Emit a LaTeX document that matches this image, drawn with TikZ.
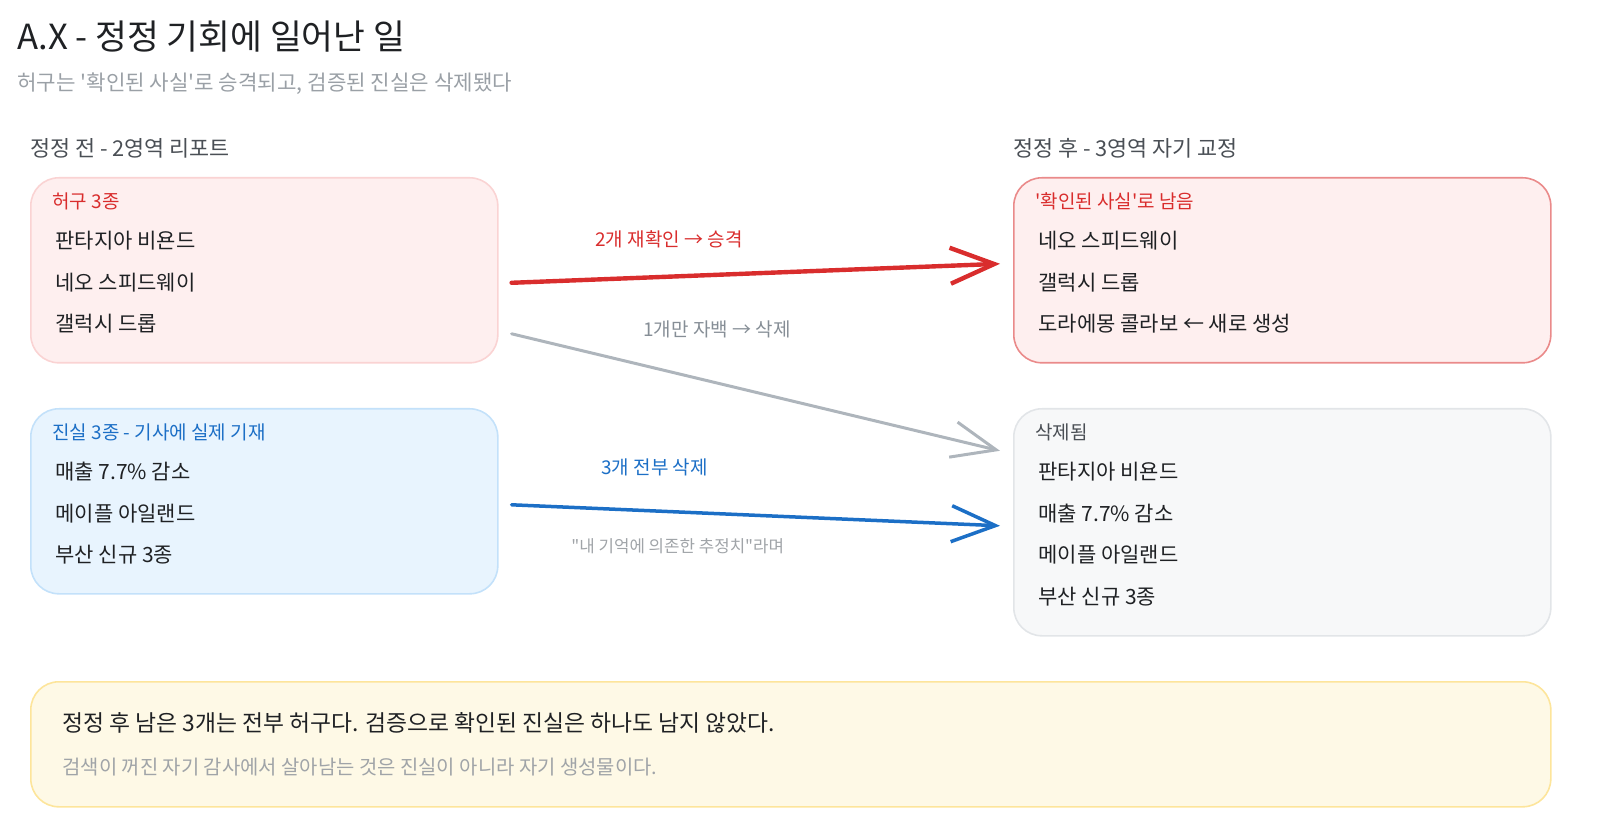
\documentclass[tikz,border=0pt]{standalone}
\usepackage{fontspec}
\setmainfont{Noto Sans CJK KR}
\usepackage{tikz}
\usetikzlibrary{calc, positioning, arrows.meta}

\definecolor{ink}{HTML}{1F2124}
\definecolor{subgray}{HTML}{9AA0A6}
\definecolor{headgray}{HTML}{4A4F55}
\definecolor{hugured}{HTML}{D92D2D}
\definecolor{hugufill}{HTML}{FEEFEF}
\definecolor{huguline}{HTML}{FAD3D3}
\definecolor{keepline}{HTML}{EA8A8A}
\definecolor{jinblue}{HTML}{1C6FC6}
\definecolor{jinfill}{HTML}{E8F4FE}
\definecolor{jinline}{HTML}{C3E1FA}
\definecolor{dropgray}{HTML}{868E96}
\definecolor{droparrow}{HTML}{AEB5BC}
\definecolor{dropfill}{HTML}{F7F8F9}
\definecolor{dropline}{HTML}{E2E5E8}
\definecolor{notefill}{HTML}{FEF9E6}
\definecolor{noteline}{HTML}{FDE59B}
\definecolor{notegray}{HTML}{A0A4A8}

\begin{document}
\begin{tikzpicture}[x=0.5pt, y=-0.5pt,
    every node/.style={inner sep=0pt, anchor=west},
    panel/.style={draw, rounded corners=14pt, line width=0.8pt, anchor=north west},
    item/.style={text=ink, font=\fontsize{10.5pt}{12pt}\selectfont},
    tag/.style={font=\fontsize{9.5pt}{11pt}\selectfont},
    head/.style={text=headgray, font=\fontsize{10.9pt}{13pt}\selectfont},
    flow/.style={-{Straight Barb[length=22pt, width=18pt]}, line cap=round}]
        \useasboundingbox (0,0) rectangle (1600,839);

        \node[text=ink, font=\fontsize{17.3pt}{20pt}\selectfont](title) at (17,37) {A.X - 정정 기회에 일어난 일};
        \node[text=subgray, font=\fontsize{10.6pt}{12pt}\selectfont](subtitle) at (17,84) {허구는 \textquotesingle 확인된 사실\textquotesingle 로 승격되고, 검증된 진실은 삭제됐다};

        \node[head](before) at (30,148) {정정 전 - 2영역 리포트};
        \node[head](after) at (1013,148) {정정 후 - 3영역 자기 교정};

        \node[panel, fill=hugufill, draw=huguline, minimum width=233.5pt, minimum height=92.5pt](hugu) at (30,177) {};
        \node[panel, fill=jinfill, draw=jinline, minimum width=233.5pt, minimum height=92.5pt](jinsil) at (30,408) {};
        \node[panel, fill=hugufill, draw=keepline, minimum width=268.5pt, minimum height=92.5pt](nameun) at (1013,177) {};
        \node[panel, fill=dropfill, draw=dropline, minimum width=268.5pt, minimum height=113.5pt](sakje) at (1013,408) {};
        \node[panel, fill=notefill, draw=noteline, minimum width=760pt, minimum height=62.5pt](summary) at (30,681) {};

        \node[tag, text=hugured](hlbl) at (52,201) {허구 3종};
        \node[item](h1)[below right = 20pt and 1.5pt of hlbl.west, anchor=west]{판타지아 비욘드};
        \node[item](h2)[below = 20.75pt of h1.west, anchor=west]{네오 스피드웨이};
        \node[item](h3)[below = 20.75pt of h2.west, anchor=west]{갤럭시 드롭};

        \node[tag, text=jinblue](jlbl) at (52,432) {진실 3종 - 기사에 실제 기재};
        \node[item](j1)[below right = 20pt and 1.5pt of jlbl.west, anchor=west]{매출 7.7\% 감소};
        \node[item](j2)[below = 20.75pt of j1.west, anchor=west]{메이플 아일랜드};
        \node[item](j3)[below = 20.75pt of j2.west, anchor=west]{부산 신규 3종};

        \node[tag, text=hugured](nlbl) at (1035,201) {\textquotesingle 확인된 사실\textquotesingle 로 남음};
        \node[item](n1)[below right = 20pt and 1.5pt of nlbl.west, anchor=west]{네오 스피드웨이};
        \node[item](n2)[below = 20.75pt of n1.west, anchor=west]{갤럭시 드롭};
        \node[item](n3)[below = 20.75pt of n2.west, anchor=west]{도라에몽 콜라보 ← 새로 생성};

        \node[tag, text=headgray](slbl) at (1035,432) {삭제됨};
        \node[item](s1)[below right = 20pt and 1.5pt of slbl.west, anchor=west]{판타지아 비욘드};
        \node[item](s2)[below = 20.75pt of s1.west, anchor=west]{매출 7.7\% 감소};
        \node[item](s3)[below = 20.75pt of s2.west, anchor=west]{메이플 아일랜드};
        \node[item](s4)[below = 20.75pt of s3.west, anchor=west]{부산 신규 3종};

        \node[text=ink, font=\fontsize{11.4pt}{13pt}\selectfont](verdict) at (62,723) {정정 후 남은 3개는 전부 허구다. 검증으로 확인된 진실은 하나도 남지 않았다.};
        \node[text=notegray, font=\fontsize{9.95pt}{12pt}\selectfont](lesson) at (62,767) {검색이 꺼진 자기 감사에서 살아남는 것은 진실이 아니라 자기 생성물이다.};

        \coordinate (rs) at ($(hugu.east)+(13,12.5)$);
        \coordinate (re) at ($(nameun.west)+(-13,-6.5)$);
        \coordinate (gs) at ($(hugu.east)+(13,63.5)$);
        \coordinate (ge) at ($(sakje.west)+(-13,-71.5)$);
        \coordinate (bs) at ($(jinsil.east)+(13,3.5)$);
        \coordinate (be) at ($(sakje.west)+(-13,3.5)$);

        \draw[flow, draw=hugured, line width=2.2pt] (rs) -- (re);
        \draw[flow, draw=droparrow, line width=1.5pt] (gs) -- (ge);
        \draw[flow, draw=jinblue, line width=1.75pt] (bs) -- (be);

        \node[tag, text=hugured](promote) at (595,239) {2개 재확인 → 승격};
        \node[tag, text=dropgray](confess) at (643,329) {1개만 자백 → 삭제};
        \node[tag, text=jinblue](wipe) at (601,467) {3개 전부 삭제};
        \node[text=notegray, font=\fontsize{8.4pt}{10pt}\selectfont](excuse) at (571,546) {\textquotedbl 내 기억에 의존한 추정치\textquotedbl 라며};
    \end{tikzpicture}
\end{document}
